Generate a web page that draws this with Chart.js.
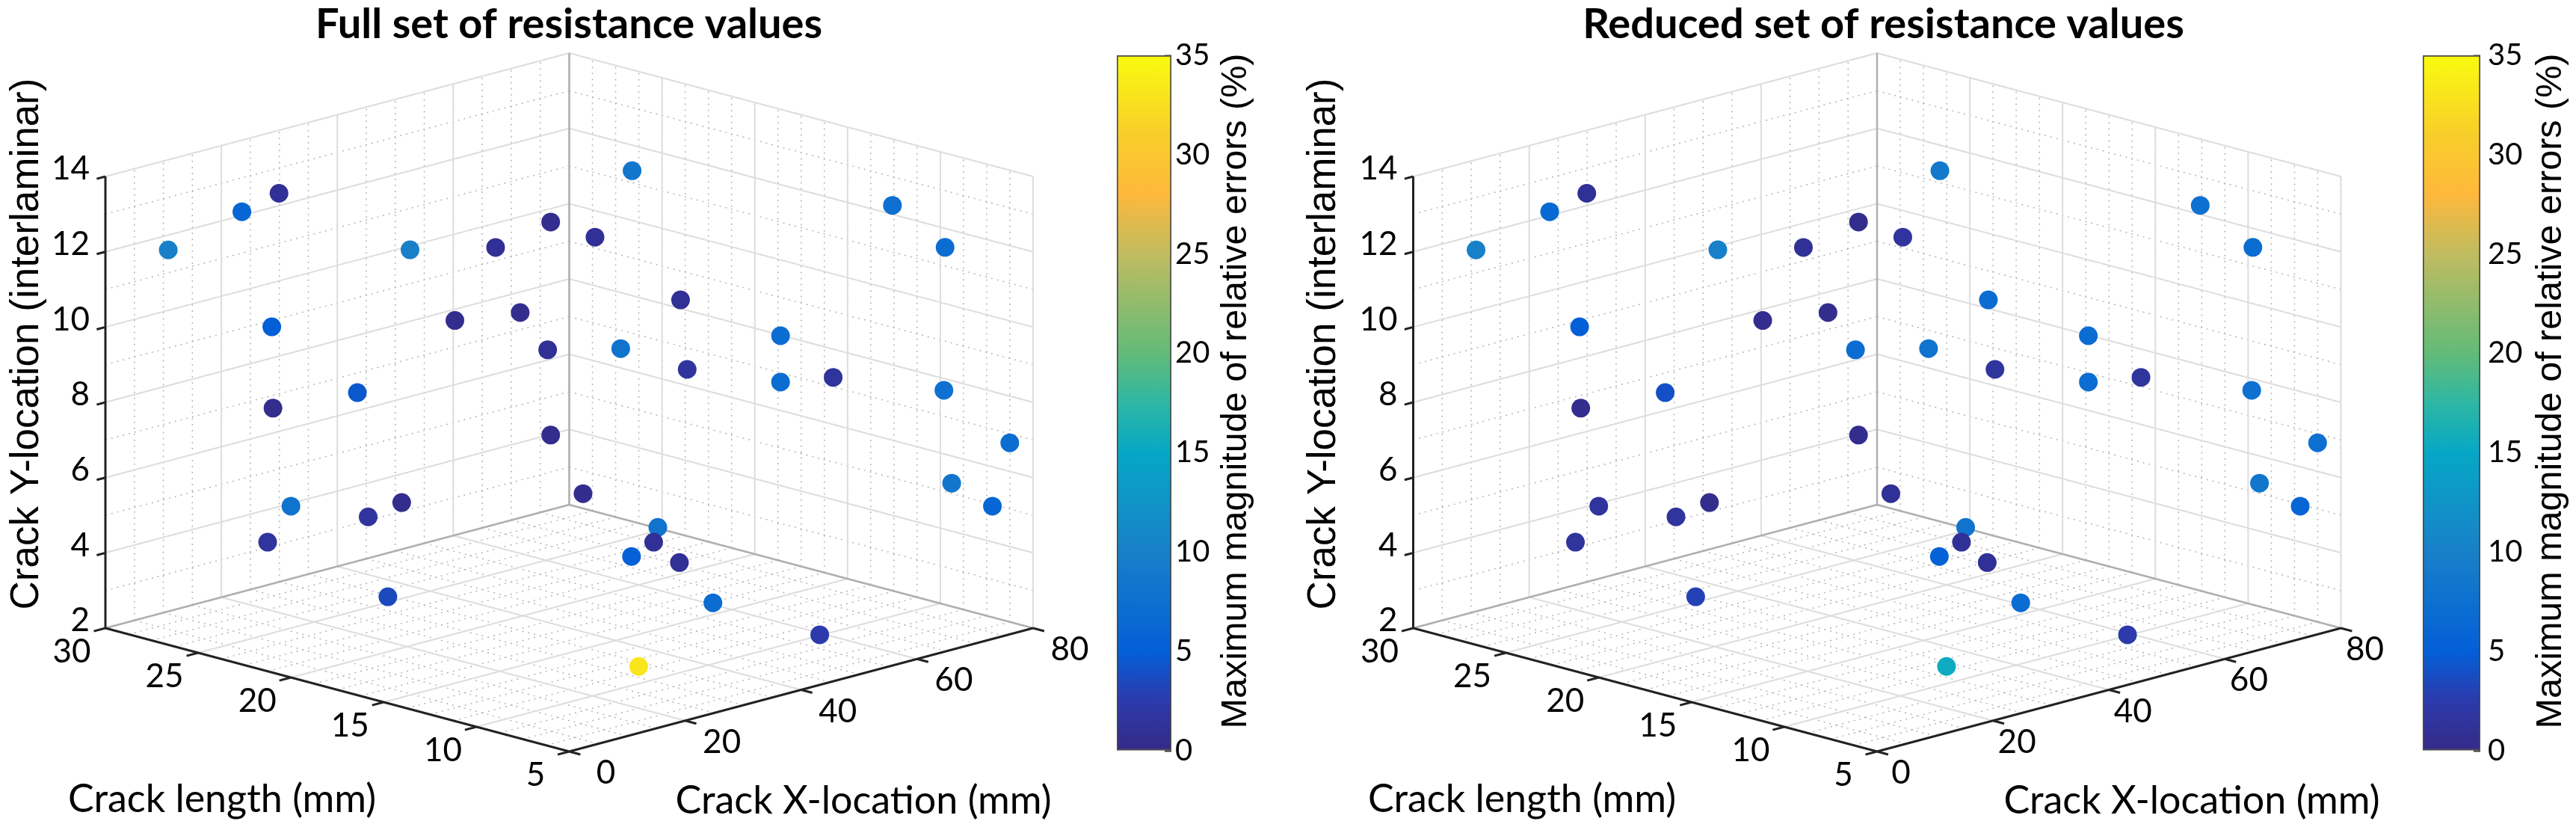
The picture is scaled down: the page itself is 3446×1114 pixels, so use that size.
<!DOCTYPE html>
<html>
<head>
<meta charset="utf-8">
<title>Resistance values</title>
<script src="https://cdn.jsdelivr.net/npm/chart.js@4"></script>
<style>
    html, body { margin: 0; padding: 0; background: #fff; }
    body { position: relative; width: 3446px; height: 1114px; overflow: hidden; }
    canvas { position: absolute; top: 0; }
</style>
</head>
<body>
<canvas id="full-chart" width="1522" height="1114" style="left:0"></canvas>
<canvas id="full-bar" width="200" height="1114" style="left:1494px"></canvas>
<canvas id="reduced-chart" width="1549" height="1114" style="left:1745px"></canvas>
<canvas id="reduced-bar" width="205" height="1114" style="left:3241px"></canvas>
<script>
// Axis ticks
const xTicks = [0, 20, 40, 60, 80];
const lengthTicks = [5, 10, 15, 20, 25, 30];
const yTicks = [2, 4, 6, 8, 10, 12, 14];
const errorTicks = [0, 5, 10, 15, 20, 25, 30, 35];

// Crack positions, same for both plots
const crackX = [5.4, 11.7, 14.9, 53.4, 26.3, 33.7, 38.4, 42.2, 14.3, 30.2, 35.7, 38.2, 44.4, 21.7, 14.5, 38.4, 41.1, 16.0, 25.5, 22.6,
    13.9, 24.4, 47.6, 47.2, 45.3, 29.9, 49.4, 52.3, 57.6, 77.9, 73.0, 76.5, 67.9, 72.5, 49.6, 58.2, 50.1, 58.2, 62.8, 72.3];
const crackLength = [28.3, 26.3, 25.3, 18.3, 21.8, 19.5, 18.0, 16.8, 25.5, 20.6, 18.8, 18.1, 16.1, 23.2, 25.5, 18.0, 17.1, 25.0, 22.0, 22.9,
    25.6, 22.4, 15.1, 15.2, 15.8, 10.6, 14.5, 13.6, 9.5, 5.6, 7.2, 6.1, 8.8, 7.4, 14.5, 11.8, 14.3, 11.8, 10.4, 7.4];
const crackY = [12.05, 13.07, 13.56, 13.5, 12.05, 12.11, 12.79, 12.39, 10.01, 10.17, 10.39, 9.39, 9.43, 8.26, 7.84, 7.13, 5.58, 5.24, 5.34, 4.96,
    4.29, 2.83, 4.68, 4.29, 3.91, 2.3, 3.75, 2.68, 2.15, 6.93, 5.85, 5.24, 13.23, 12.11, 10.72, 9.77, 8.88, 8.54, 8.66, 8.32];

// Maximum relative error (%) at each crack
const fullErrors = [10, 6, 1, 8.5, 10, 1, 0.5, 1, 5, 0.5, 0.5, 1, 8, 4.5, 0.5, 0.5, 0.5, 8, 0.5, 1.5,
    1.5, 3.5, 8, 1, 5.5, 33, 1, 7, 2.5, 7, 8.5, 6, 7.5, 7, 1, 7, 1.5, 7, 1.5, 7.5];
const reducedErrors = [10, 6.5, 1, 9, 10, 1, 0.5, 1.5, 5, 0.5, 0.5, 7, 8, 4, 0.5, 0.5, 1, 1.5, 0.5, 1.5,
    1.5, 3, 8, 1, 5.5, 15.5, 1, 7, 2.5, 7.5, 8.5, 6, 7.5, 7, 7, 7, 1.5, 7, 1.5, 7.5];

const errorMax = 35;
const colorStops = [
    [0, [53, 42, 135]], [2.5, [44, 58, 172]], [5, [3, 95, 215]], [10, [24, 128, 200]], [15, [6, 167, 198]],
    [17.5, [46, 183, 164]], [20, [98, 187, 120]], [25, [192, 188, 96]], [28, [254, 184, 60]], [31, [248, 206, 42]], [35, [249, 251, 14]]
];

const sansFont = "Lato, 'Open Sans', sans-serif";
const axisFont = "'Liberation Sans', Arial, sans-serif";

// Colour of an error value on the colour bar
const errorColor = (v) => {
    let i = 0;
    while (i < colorStops.length - 2 && v > colorStops[i + 1][0]) i++;
    const [a, ca] = colorStops[i];
    const [b, cb] = colorStops[i + 1];
    const t = (v - a) / (b - a);
    const rgb = ca.map((c, k) => Math.round(c + (cb[k] - c) * t));
    return `rgb(${rgb.join(',')})`;
};

// 3D view: crack X and crack length run along the floor, crack Y goes up
const project = (x, len, y) => ({
    x: 620.5 * (x / 80 - (len - 5) / 25),
    y: 165 * (x / 80 + (len - 5) / 25) + 50.33 * (y - 2)
});

const segment = (list, a, b) => {
    list.push(project(...a), project(...b), { x: NaN, y: NaN });
};

const range = (from, to, step) => {
    const out = [];
    for (let v = from; v <= to + 1e-6; v += step) out.push(v);
    return out;
};

// Grid lines on the floor and the two back walls
const gridLines = (xs, lens, ys) => {
    const out = [];
    xs.forEach(x => {
        segment(out, [x, 5, 2], [x, 30, 2]);
        segment(out, [x, 30, 2], [x, 30, 14]);
    });
    lens.forEach(len => {
        segment(out, [0, len, 2], [80, len, 2]);
        segment(out, [80, len, 2], [80, len, 14]);
    });
    ys.forEach(y => {
        segment(out, [0, 30, y], [80, 30, y]);
        segment(out, [80, 30, y], [80, 5, y]);
    });
    return out;
};

const axisLines = () => {
    const out = [];
    segment(out, [0, 30, 2], [0, 30, 14]);
    segment(out, [0, 30, 2], [0, 5, 2]);
    segment(out, [0, 5, 2], [80, 5, 2]);
    yTicks.forEach(y => segment(out, [0, 30, y], [-1.5, 30, y]));
    lengthTicks.forEach(len => segment(out, [0, len, 2], [-2, len, 2]));
    xTicks.forEach(x => segment(out, [x, 5, 2], [x, 4.4, 2]));
    return out;
};

const backEdges = () => {
    const out = [];
    segment(out, [0, 30, 2], [80, 30, 2]);
    segment(out, [80, 30, 2], [80, 5, 2]);
    segment(out, [80, 30, 2], [80, 30, 14]);
    return out;
};

// Tick labels and axis names
const axisTextPlugin = {
    id: 'axisText',
    afterDraw(chart, args, opts) {
        const { ctx, scales } = chart;
        const at = (p) => [scales.x.getPixelForValue(p.x), scales.y.getPixelForValue(p.y)];
        ctx.save();
        ctx.fillStyle = '#000';
        ctx.textBaseline = 'middle';
        ctx.textAlign = 'center';
        ctx.font = `44px ${sansFont}`;
        lengthTicks.forEach(len => {
            const [px, py] = at(project(0, len, 2));
            ctx.fillText(String(len), px - 45, py + 32);
        });
        xTicks.forEach(x => {
            const [px, py] = at(project(x, 5, 2));
            ctx.fillText(String(x), px + opts.xLabelShift, py + 29);
        });
        ctx.textAlign = 'right';
        yTicks.forEach(y => {
            const [px, py] = at(project(0, 30, y));
            ctx.fillText(String(y), px - 21, py - 10);
        });

        ctx.textAlign = 'center';
        ctx.font = `52px ${sansFont}`;
        ctx.fillText('Crack length (mm)', opts.lengthLabelX, 1069);
        ctx.fillText('Crack X-location (mm)', opts.xLabelX, 1071);

        ctx.translate(opts.yLabelX, 460);
        ctx.rotate(-Math.PI / 2);
        ctx.font = `53px ${axisFont}`;
        ctx.fillText('Crack Y-location (interlaminar)', 0, 0);
        ctx.restore();
    }
};

const barLabelPlugin = {
    id: 'barLabel',
    afterDraw(chart, args, opts) {
        const { ctx } = chart;
        ctx.save();
        ctx.fillStyle = '#000';
        ctx.textAlign = 'center';
        ctx.textBaseline = 'middle';
        ctx.font = `48.5px ${axisFont}`;
        ctx.translate(opts.x, 523);
        ctx.rotate(-Math.PI / 2);
        ctx.fillText('Maximum magnitude of relative errors (%)', 0, 0);
        ctx.restore();
    }
};

const makePlot = (id, titleText, errors, frontX, textOpts) => {
    const canvas = document.getElementById(id);
    const points = crackX.map((x, i) => project(x, crackLength[i], crackY[i]));
    return new Chart(canvas, {
        type: 'scatter',
        data: {
            datasets: [
                {
                    label: titleText,
                    data: points,
                    order: 0,
                    pointRadius: 12.5,
                    pointBorderWidth: 0,
                    pointBackgroundColor: errors.map(errorColor)
                },
                { data: axisLines(), order: 1, showLine: true, pointRadius: 0, borderColor: '#222', borderWidth: 3 },
                { data: backEdges(), order: 2, showLine: true, pointRadius: 0, borderColor: '#b0b0b0', borderWidth: 2.5 },
                { data: gridLines(xTicks, lengthTicks, yTicks), order: 3, showLine: true, pointRadius: 0, borderColor: '#dedede', borderWidth: 2 },
                { data: gridLines(range(0, 80, 5), range(5, 30, 1.25), range(2, 14, 1)), order: 4, showLine: true, pointRadius: 0, borderColor: '#b4b4b4', borderWidth: 1.5, borderDash: [2, 6] }
            ]
        },
        options: {
            responsive: false,
            animation: false,
            devicePixelRatio: 1,
            events: [],
            layout: { padding: 0, autoPadding: false },
            scales: {
                x: { display: false, type: 'linear', min: -frontX, max: canvas.width - frontX },
                y: { display: false, type: 'linear', min: -109, max: 942 }
            },
            plugins: {
                legend: { display: false },
                tooltip: { enabled: false },
                title: {
                    display: true,
                    text: titleText,
                    color: '#000',
                    padding: { top: 3, bottom: 0 },
                    font: { family: sansFont, size: 56, weight: 'bold', lineHeight: 60 / 56 }
                },
                axisText: textOpts
            }
        },
        plugins: [axisTextPlugin]
    });
};

const makeBar = (id, axisWidth, labelPad, labelX) => new Chart(document.getElementById(id), {
    type: 'bar',
    data: {
        labels: [''],
        datasets: [{
            data: [[errorTicks[0], errorMax]],
            barPercentage: 1,
            categoryPercentage: 1,
            borderSkipped: false,
            borderWidth: 2,
            borderColor: '#4a4a4a',
            backgroundColor: (c) => {
                const area = c.chart.chartArea;
                if (!area) return '#352a87';
                const grad = c.chart.ctx.createLinearGradient(0, area.bottom, 0, area.top);
                colorStops.forEach(([v]) => grad.addColorStop(v / errorMax, errorColor(v)));
                return grad;
            }
        }]
    },
    options: {
        responsive: false,
        animation: false,
        devicePixelRatio: 1,
        events: [],
        layout: { padding: { top: 74, bottom: 110 } },
        scales: {
            x: { display: false },
            y: {
                position: 'right',
                min: 0,
                max: errorMax,
                afterFit: (s) => { s.width = axisWidth; },
                afterBuildTicks: (s) => { s.ticks = errorTicks.map(value => ({ value })); },
                border: { display: false },
                grid: { drawOnChartArea: false, tickLength: -9, tickColor: '#333', tickWidth: 2 },
                ticks: { color: '#000', padding: labelPad + 9, font: { family: sansFont, size: 40 } }
            }
        },
        plugins: {
            legend: { display: false },
            tooltip: { enabled: false },
            barLabel: { x: labelX }
        }
    },
    plugins: [barLabelPlugin]
});

makePlot('full-chart', 'Full set of resistance values', fullErrors, 761.5,
    { xLabelShift: 49, lengthLabelX: 297, xLabelX: 1155, yLabelX: 36 });
makePlot('reduced-chart', 'Reduced set of resistance values', reducedErrors, 766,
    { xLabelShift: 32, lengthLabelX: 291, xLabelX: 1187, yLabelX: 26 });
makeBar('full-bar', 127, 5, 160);
makeBar('reduced-bar', 128, 10, 172);
</script>
</body>
</html>
